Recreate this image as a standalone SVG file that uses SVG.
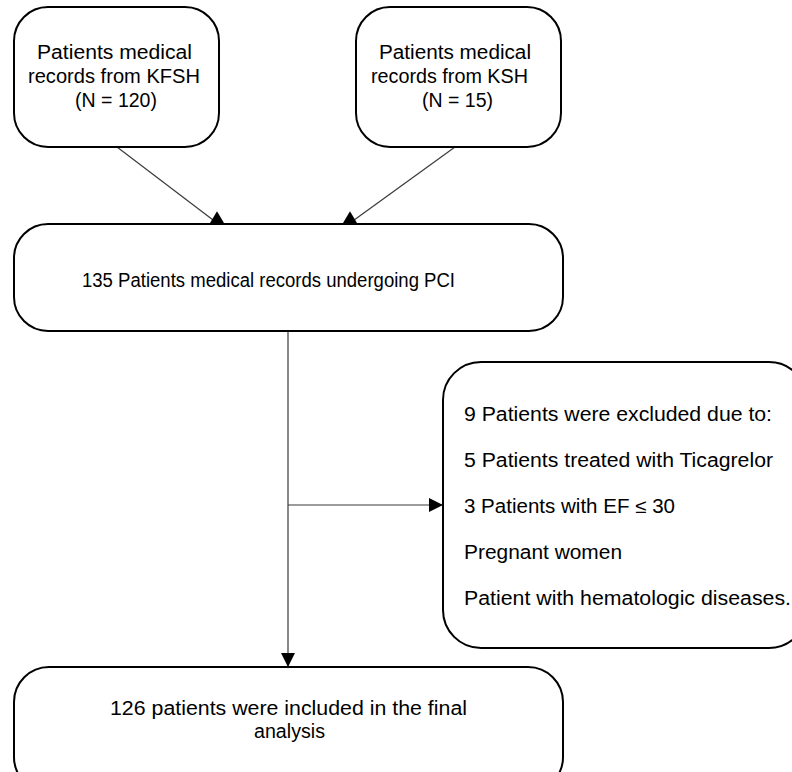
<svg xmlns="http://www.w3.org/2000/svg" width="792" height="772" viewBox="0 0 792 772">
  <style>
    .box { fill: #ffffff; stroke: #000000; stroke-width: 2; }
    .conn { fill: none; stroke: #3a3a3a; stroke-width: 1.2; }
    text { font-family: "Liberation Sans", Arial, sans-serif; font-size: 19.5px; fill: #000000; }
    .c { text-anchor: middle; }
  </style>
  <defs>
    <marker id="ahUp" markerUnits="userSpaceOnUse" markerWidth="14" markerHeight="14" refX="0" refY="6.5" orient="-90" viewBox="0 0 12 13">
      <path d="M0,0 L11,6.5 L0,13 z" fill="#000000"/>
    </marker>
    <marker id="ah" markerUnits="userSpaceOnUse" markerWidth="14" markerHeight="14" refX="13" refY="6.5" orient="auto" viewBox="0 0 13 13">
      <path d="M0,0 L13,6.5 L0,13 z" fill="#000000"/>
    </marker>
  </defs>
  <rect width="792" height="772" fill="#ffffff"/>
  <g id="connectors">
    <line class="conn" x1="117" y1="147" x2="217" y2="223" marker-end="url(#ahUp)"/>
    <line class="conn" x1="455" y1="147" x2="350" y2="223" marker-end="url(#ahUp)"/>
    <line class="conn" x1="288" y1="331" x2="288" y2="667" marker-end="url(#ah)"/>
    <line class="conn" x1="288" y1="505" x2="443" y2="505" marker-end="url(#ah)"/>
  </g>
  <g id="kfsh">
    <rect class="box" x="14" y="7" width="205" height="140" rx="34" ry="34"/>
    <text x="37" y="59" textLength="155" lengthAdjust="spacingAndGlyphs">Patients medical</text>
    <text x="28" y="83" textLength="172" lengthAdjust="spacingAndGlyphs">records from KFSH</text>
    <text x="75" y="107" textLength="82" lengthAdjust="spacingAndGlyphs">(N = 120)</text>
  </g>
  <g id="ksh">
    <rect class="box" x="356" y="7" width="205" height="140" rx="34" ry="34"/>
    <text x="379" y="59" textLength="152" lengthAdjust="spacingAndGlyphs">Patients medical</text>
    <text x="371" y="83" textLength="157" lengthAdjust="spacingAndGlyphs">records from KSH</text>
    <text x="422" y="107" textLength="71" lengthAdjust="spacingAndGlyphs">(N = 15)</text>
  </g>
  <g id="pci">
    <rect class="box" x="14" y="224" width="549" height="107" rx="34" ry="34"/>
    <text x="82" y="287" textLength="373" lengthAdjust="spacingAndGlyphs">135 Patients medical records undergoing PCI</text>
  </g>
  <g id="excluded">
    <rect class="box" x="443" y="362" width="364" height="286" rx="38" ry="38"/>
    <text x="464" y="421" textLength="308" lengthAdjust="spacingAndGlyphs">9 Patients were excluded due to:</text>
    <text x="464" y="467" textLength="309" lengthAdjust="spacingAndGlyphs">5 Patients treated with Ticagrelor</text>
    <text x="464" y="513" textLength="211" lengthAdjust="spacingAndGlyphs">3 Patients with EF ≤ 30</text>
    <text x="464" y="559" textLength="158" lengthAdjust="spacingAndGlyphs">Pregnant women</text>
    <text x="464" y="605" textLength="327" lengthAdjust="spacingAndGlyphs">Patient with hematologic diseases.</text>
  </g>
  <g id="final">
    <rect class="box" x="14" y="667" width="549" height="125" rx="35" ry="35"/>
    <text x="110" y="715" textLength="357" lengthAdjust="spacingAndGlyphs">126 patients were included in the final</text>
    <text x="254" y="738" textLength="71" lengthAdjust="spacingAndGlyphs">analysis</text>
  </g>
</svg>
